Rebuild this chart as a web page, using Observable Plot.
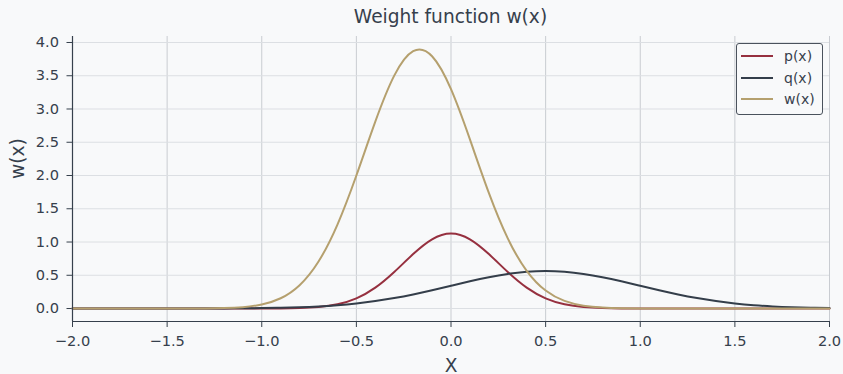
<!DOCTYPE html>
<html><head><meta charset="utf-8">
<script src="https://cdn.jsdelivr.net/npm/d3@7"></script>
<script src="https://cdn.jsdelivr.net/npm/@observablehq/plot@0.6"></script>
<style>
body{margin:0;background:#f8f9fa;font-family:"DejaVu Sans",sans-serif;}
#wrap{position:relative;width:843px;height:374px;}
#title{height:34px;line-height:34px;text-align:center;font-size:18.6px;color:#36404c;padding-left:58px;width:785px;}
#legend{position:absolute;left:736px;top:43px;width:85px;height:70px;border:1px solid #4a525c;border-radius:3px;background:#f8f9fa;font-size:14px;color:#36404c;}
.item{position:absolute;left:4px;height:20px;display:flex;align-items:center;}
.sw{width:32px;height:2px;margin-right:11px;}
</style></head>
<body><div id="wrap"><div id="title">Weight function w(x)</div><div id="chart"></div><div id="legend"></div></div>
<script>
const xs = [-2.0,-1.9,-1.8,-1.7,-1.6,-1.5,-1.4,-1.3,-1.2,-1.1,-1.0,-0.9,-0.8,-0.7,-0.6,-0.5,-0.4,-0.3,-0.2,-0.1,0.0,0.1,0.2,0.3,0.4,0.5,0.6,0.7,0.8,0.9,1.0,1.1,1.2,1.3,1.4,1.5,1.6,1.7,1.8,1.9,2.0];
const pVals = [0,0,0,0,0,0,0,0,0,0.0001,0.0004,0.0017,0.0067,0.0224,0.0633,0.1527,0.3136,0.5491,0.8191,1.0413,1.128,1.0413,0.8191,0.5491,0.3136,0.1527,0.0633,0.0224,0.0067,0.0017,0.0004,0.0001,0,0,0,0,0,0,0,0,0];
const qVals = [0,0,0,0,0.0001,0.0002,0.0004,0.0009,0.0017,0.0034,0.0063,0.0112,0.0192,0.0317,0.0502,0.0764,0.1117,0.1568,0.2117,0.2746,0.3422,0.4097,0.4713,0.5208,0.5530,0.5642,0.5530,0.5208,0.4713,0.4097,0.3422,0.2746,0.2117,0.1568,0.1117,0.0764,0.0502,0.0317,0.0192,0.0112,0.0063];
const wVals = [0,0,0,0,0,0.0001,0.0004,0.0018,0.0064,0.0209,0.0604,0.1546,0.3511,0.7070,1.2626,2.0,2.8098,3.5014,3.8697,3.7930,3.2974,2.5425,1.7387,1.0546,0.5674,0.2707,0.1145,0.0430,0.0143,0.0042,0.0011,0.0003,0.0001,0,0,0,0,0,0,0,0];
const seriesNames = ["p(x)","q(x)","w(x)"];
const seriesColors = ["#96303f","#343e4a","#b5a06e"];
const xTicks = [-2,-1.5,-1,-0.5,0,0.5,1,1.5,2];
const yTicks = [0,0.5,1,1.5,2,2.5,3,3.5,4];
const yDomain = [-0.195, 4.09];

const allVals = [pVals,qVals,wVals];
const data = [];
allVals.forEach((vals,i)=>vals.forEach((v,j)=>data.push({x:xs[j],y:v,s:seriesNames[i]})));
const fmt = d3.format(".1f");
const ink = "#36404c";
const chart = Plot.plot({
  width:843, height:340,
  marginLeft:72, marginRight:14, marginTop:2, marginBottom:53,
  style:{background:"transparent",fontFamily:"DejaVu Sans, sans-serif",fontSize:"14.6px",color:ink},
  x:{domain:[-2,2]},
  y:{domain:yDomain},
  color:{domain:seriesNames,range:seriesColors},
  marks:[
    Plot.ruleX(xTicks,{stroke:"#c9ccd1",strokeWidth:1}),
    Plot.ruleY(yTicks,{stroke:"#dcdfe3",strokeWidth:1}),
    Plot.axisX({ticks:xTicks,tickFormat:fmt,tickSize:6,tickPadding:8,fontSize:14.6,stroke:ink,fill:ink,label:null}),
    Plot.axisY({ticks:yTicks,tickFormat:fmt,tickSize:5.5,tickPadding:8,fontSize:14.6,stroke:ink,fill:ink,label:null}),
    Plot.line(data,{x:"x",y:"y",stroke:"s",z:"s",strokeWidth:2,curve:"natural"}),
    Plot.ruleX([-2],{stroke:ink,strokeWidth:1.2}),
    Plot.ruleY([yDomain[0]],{stroke:ink,strokeWidth:1.2}),
    Plot.text(["X"],{frameAnchor:"bottom",dy:50,fontSize:18.6,fill:ink}),
    Plot.text(["w(x)"],{frameAnchor:"left",dx:-54,rotate:-90,fontSize:18.6,fill:ink})
  ]
});
document.getElementById("chart").appendChild(chart);
const lg = document.getElementById("legend");
seriesNames.forEach((n,i)=>{
  const d=document.createElement("div");d.className="item";d.style.top=(2+i*21.5)+"px";
  d.innerHTML=`<span class="sw" style="background:${seriesColors[i]}"></span><span>${n}</span>`;
  lg.appendChild(d);
});
</script></body></html>
